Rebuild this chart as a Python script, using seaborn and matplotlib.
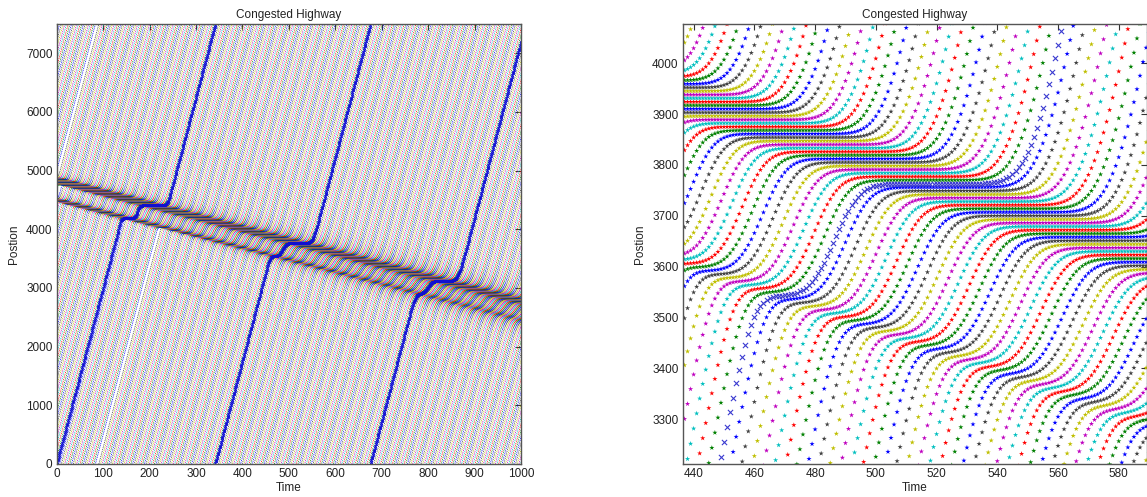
import matplotlib
matplotlib.use('Agg')
import numpy as np
import pandas as pd
import matplotlib.pyplot as plt
import seaborn as sns

# ring road and driver settings
road_length = 7500
free_speed = 30.0      # slope of the free-flow lines (position per time step)
jam_gap = 7.0          # spacing of stopped cars
reaction = 3.4         # jam drifts back about 2 position units per step
accel = 3.5
free_gap = 110.0
n_steps = 1000

# stopped platoons at t = 0 (front position, number of cars)
jam_front = [4530, 4890]
jam_size = [10, 19]

matlab_colors = ['#0000ff', '#008000', '#ff0000', '#00bfbf',
                 '#bf00bf', '#bfbf00', '#404040']
tracked_color = '#3a3ad0'

left_xticks = list(range(0, 1001, 100))
left_yticks = list(range(0, 7001, 1000))
right_xticks = list(range(440, 581, 20))
right_yticks = list(range(3300, 4001, 100))

# starting positions: moving cars around and between the stopped platoons
pos0, vel0 = [], []
x = 0.0
first_tail = jam_front[0] - (jam_size[0] - 1) * jam_gap
while x <= first_tail - free_gap:
    pos0.append(x)
    vel0.append(free_speed)
    x += free_gap
prev_front = None
for front, size in zip(jam_front, jam_size):
    tail = front - (size - 1) * jam_gap
    if prev_front is not None:
        fill = []
        y = tail - free_gap
        while y > prev_front + 0.6 * free_gap:
            fill.append(y)
            y -= free_gap
        for y in sorted(fill):
            pos0.append(y)
            vel0.append(free_speed)
    for k in range(size):
        pos0.append(tail + k * jam_gap)
        vel0.append(0.0)
    prev_front = front
x = prev_front + free_gap
while x <= road_length - free_gap:
    pos0.append(x)
    vel0.append(free_speed)
    x += free_gap

pos0 = np.array(pos0)
vel0 = np.array(vel0)
n_cars = len(pos0)

# car following: each car stays behind where its leader was a moment ago
X = np.zeros((n_steps + 1, n_cars))
X[0] = pos0
V = vel0.copy()
lead_idx = np.roll(np.arange(n_cars), -1)
lead_shift = np.zeros(n_cars)
lead_shift[-1] = road_length
for t in range(1, n_steps + 1):
    q = t - reaction
    if q >= 0:
        i0 = int(np.floor(q))
        f = q - i0
        past = X[i0] * (1 - f) + X[i0 + 1] * f
    else:
        past = pos0 + vel0 * q
    limit = past[lead_idx] + lead_shift - jam_gap
    new = np.minimum(X[t - 1] + np.minimum(V + accel, free_speed), limit)
    new = np.maximum(new, X[t - 1])
    V = new - X[t - 1]
    X[t] = new

time = np.arange(n_steps + 1)
df = pd.DataFrame({
    'Time': np.repeat(time, n_cars),
    'car': np.tile(np.arange(n_cars), n_steps + 1),
    'Postion': (X % road_length).ravel(),
})
others = df[df['car'] != 0]
tracked = df[df['car'] == 0]
palette = {c: matlab_colors[c % 7] for c in range(n_cars)}

sns.set_style('white')
plt.rcParams['font.family'] = ['Liberation Sans', 'DejaVu Sans']

fig = plt.figure(figsize=(11.47, 4.97), dpi=100)
ax1 = fig.add_axes([56.7 / 1147, 33 / 497, 464.3 / 1147, 440 / 497])
ax2 = fig.add_axes([682.7 / 1147, 33 / 497, 464.3 / 1147, 440 / 497])

sns.scatterplot(data=others, x='Time', y='Postion', hue='car', palette=palette,
                s=0.5, linewidth=0, legend=False, ax=ax1)
ax1.scatter(tracked['Time'], tracked['Postion'], marker='x', s=3,
            color='#1010d0', linewidths=0.8)

win = others[(others['Time'] > 430) & (others['Time'] < 595)]
sns.scatterplot(data=win, x='Time', y='Postion', hue='car', palette=palette,
                marker='*', s=15, linewidth=0, legend=False, ax=ax2)
tw = tracked[(tracked['Time'] > 430) & (tracked['Time'] < 595)]
ax2.scatter(tw['Time'], tw['Postion'], marker='x', s=14,
            color=tracked_color, linewidths=0.8)

for ax in (ax1, ax2):
    ax.set_title('Congested Highway', fontsize=8.5, color='#222222', pad=4)
    ax.set_xlabel('Time', fontsize=8.5, color='#222222', labelpad=1)
    ax.set_ylabel('Postion', fontsize=8.5, color='#222222', labelpad=4)
    ax.tick_params(direction='in', top=True, right=True, length=4,
                   labelsize=8.5, labelcolor='#222222', color='#333333', pad=3)
    for sp in ax.spines.values():
        sp.set_color('#555555')
        sp.set_linewidth(1.0)

ax1.set_xlim(0, 1000)
ax1.set_ylim(0, 7500)
ax1.set_xticks(left_xticks)
ax1.set_yticks(left_yticks)
ax2.set_xlim(436.4, 589.3)
ax2.set_ylim(3212, 4077)
ax2.set_xticks(right_xticks)
ax2.set_yticks(right_yticks)

fig.savefig('out.png', dpi=100)
